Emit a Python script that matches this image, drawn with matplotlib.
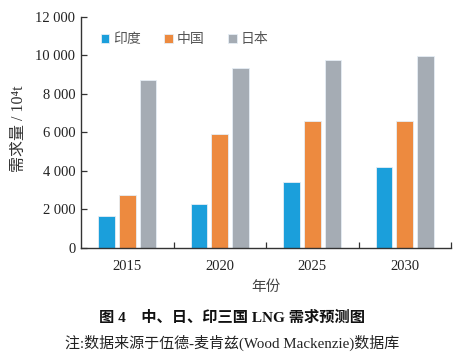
import numpy as np
import matplotlib
matplotlib.use("Agg")
import matplotlib.pyplot as plt
from matplotlib.ticker import FuncFormatter, FixedLocator

years = ["2015", "2020", "2025", "2030"]
series_names = ["印度", "中国", "日本"]
india = [1650, 2270, 3450, 4180]
china = [2740, 5920, 6590, 6590]
japan = [8720, 9360, 9760, 9980]
colors = ["#1b9fdb", "#ed8a3f", "#a5acb4"]

serif = ["Liberation Serif", "DejaVu Serif"]
cjk = ["Noto Sans CJK SC", "DejaVu Sans"]
mixed = ["Liberation Serif", "Noto Sans CJK SC", "DejaVu Sans"]

fig = plt.figure(figsize=(4.57, 3.58), dpi=100)
ax = fig.add_axes([81/457, 1-248/358, 370/457, (248-16.7)/358])

x = np.arange(len(years))
w = 0.18
step = 0.224
for i, (vals, name) in enumerate(zip([india, china, japan], series_names)):
    ax.bar(x + (i-1)*step, vals, width=w, color=colors[i], label=name,
           edgecolor="#e6eef5", linewidth=0.6)

ax.set_xlim(-0.5, 3.5)
ax.set_ylim(0, 12000)
ax.set_yticks(np.arange(0, 12001, 2000))
ax.yaxis.set_major_formatter(FuncFormatter(lambda v, p: f"{int(v):,}".replace(",", " ")))
ax.set_xticks(x)
ax.set_xticklabels(years)
ax.xaxis.set_minor_locator(FixedLocator([0.5, 1.5, 2.5, 3.5]))
ax.tick_params(axis="x", which="major", length=0, pad=9)
ax.tick_params(axis="x", which="minor", length=4, direction="in", width=0.9, color="#333333")
ax.tick_params(axis="y", length=4, direction="in", width=0.9, color="#333333", pad=4)
for lab in ax.get_xticklabels() + ax.get_yticklabels():
    lab.set_fontfamily(serif)
    lab.set_fontsize(10.5)
    lab.set_color("#222222")
for s in ["top", "right"]:
    ax.spines[s].set_visible(False)
for s in ["left", "bottom"]:
    ax.spines[s].set_color("#333333")
    ax.spines[s].set_linewidth(1.0)

fig.text(19/457, 1-129/358, "需求量 / 10\u2074t", rotation=90, ha="center", va="center",
         fontsize=11.5, family=mixed, color="#333333")
fig.text(266/457, 1-287/358, "年份", ha="center", va="center",
         fontsize=10.5, family=cjk, color="#444444")
fig.text(232/457, 1-318/358, "图 4    中、日、印三国 LNG 需求预测图", ha="center", va="center",
         fontsize=11, family=mixed, fontweight="bold", color="#111111")
fig.text(232/457, 1-343/358, "注:数据来源于伍德-麦肯兹(Wood Mackenzie)数据库", ha="center", va="center",
         fontsize=10.8, family=mixed, color="#222222")

leg = ax.legend(loc="upper left", bbox_to_anchor=(88/457, 1-20/358), bbox_transform=fig.transFigure,
                ncol=3, frameon=False, handlelength=0.6, handleheight=0.6, handletextpad=0.3,
                columnspacing=1.7, prop={"family": cjk, "size": 10, "weight": "light"})
for t in leg.get_texts():
    t.set_color("#555555")

fig.savefig("out.png", dpi=100)
